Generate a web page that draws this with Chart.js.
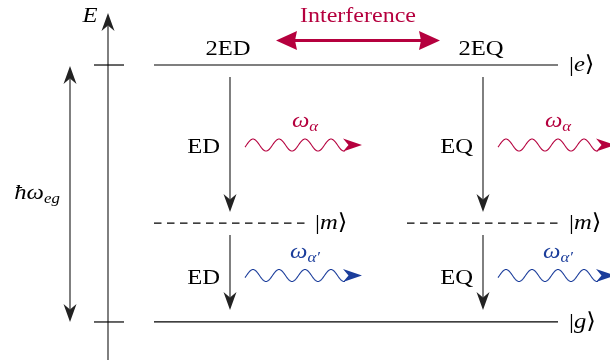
<!DOCTYPE html>
<html>
<head>
<meta charset="utf-8">
<script src="https://cdn.jsdelivr.net/npm/chart.js@4/dist/chart.umd.min.js"></script>
<style>
  html, body { margin: 0; padding: 0; background: #fff; }
  #wrap { width: 610px; height: 360px; position: relative; }
</style>
</head>
<body>
<div id="wrap"><canvas id="diagram"></canvas></div>
<script>
// Energy levels, in units of ħω_eg above the ground state
const levelNames = ['g', 'm', 'e'];
const levelEnergies = [0, 0.385, 1];
// Multipole channels and the two-photon process each one forms
const channelNames = ['ED', 'EQ'];
const processNames = ['2ED', '2EQ'];
// Subscripts of the first and second emitted photon
const photonNames = ['α', 'α′'];
const interferenceLabel = 'Interference';
const axisLabel = 'E';

const E = Object.fromEntries(levelNames.map((n, i) => [n, levelEnergies[i]]));

// Horizontal layout (x scale runs 0..610)
const L = {
  axisX: 108,
  tick: [94, 124],
  gapArrowX: 70,
  levelSpan: [154, 558],
  virtualSpans: [[154, 305], [407, 558]],
  columns: [230, 483],
  ketX: [569, 315],
  interference: [276, 440]
};
const style = {
  ink: '#000',
  arrowInk: '#222',
  crimson: '#b5003e',
  blue: '#1b3d9b',
  serif: "'Liberation Serif', 'DejaVu Serif', 'DejaVu Sans', serif"
};

function levelSet(x0, x1, energy, dashed) {
  return {
    data: [{ x: x0, y: energy }, { x: x1, y: energy }],
    showLine: true,
    borderColor: style.ink,
    borderWidth: 1.2,
    borderDash: dashed ? [7.5, 5.5] : [],
    pointRadius: 0,
    fill: false
  };
}

const datasets = [
  levelSet(L.levelSpan[0], L.levelSpan[1], E.e, false),
  levelSet(L.levelSpan[0], L.levelSpan[1], E.g, false),
  ...L.virtualSpans.map(s => levelSet(s[0], s[1], E.m, true))
];

// Arrow head with a swept-back (stealth) outline; tip at (x, y), pointing along angle
function head(ctx, x, y, angle, len, width, notch, color) {
  ctx.save();
  ctx.translate(x, y);
  ctx.rotate(angle);
  ctx.beginPath();
  ctx.moveTo(0, 0);
  ctx.lineTo(-len, -width / 2);
  ctx.lineTo(-len + notch, 0);
  ctx.lineTo(-len, width / 2);
  ctx.closePath();
  ctx.fillStyle = color;
  ctx.fill();
  ctx.restore();
}

function arrow(ctx, x0, y0, x1, y1, opts) {
  const o = Object.assign({ color: style.arrowInk, lw: 1.15, len: 18, width: 13, notch: 5.5, both: false }, opts);
  const a = Math.atan2(y1 - y0, x1 - x0);
  const cut = o.len - o.notch;
  const sx = o.both ? x0 + Math.cos(a) * cut : x0;
  const sy = o.both ? y0 + Math.sin(a) * cut : y0;
  ctx.save();
  ctx.strokeStyle = o.color;
  ctx.lineWidth = o.lw;
  ctx.beginPath();
  ctx.moveTo(sx, sy);
  ctx.lineTo(x1 - Math.cos(a) * cut, y1 - Math.sin(a) * cut);
  ctx.stroke();
  ctx.restore();
  head(ctx, x1, y1, a, o.len, o.width, o.notch, o.color);
  if (o.both) head(ctx, x0, y0, a + Math.PI, o.len, o.width, o.notch, o.color);
}

// Wavy photon line ending in an arrow head
function photon(ctx, x0, tipX, y, color) {
  const period = 26, amp = 6, firstPeak = x0 + 8, end = tipX - 17;
  ctx.save();
  ctx.strokeStyle = color;
  ctx.lineWidth = 1.1;
  ctx.beginPath();
  for (let i = 0, x = x0; x <= end; i++, x = x0 + i * 0.5) {
    const yy = y - amp * Math.cos(2 * Math.PI * (x - firstPeak) / period);
    if (i === 0) ctx.moveTo(x, yy); else ctx.lineTo(x, yy);
  }
  ctx.stroke();
  ctx.restore();
  head(ctx, tipX, y, 0, 19, 13, 5.5, color);
}

// Text made of runs (upright / italic, sub- and superscripts), widened to a book-face width
function text(ctx, parts, x, y, align, color) {
  const fontOf = p => `${p.it ? 'italic ' : ''}${p.size || 22}px ${style.serif}`;
  let total = 0;
  const widths = parts.map(p => {
    ctx.font = fontOf(p);
    const w = ctx.measureText(p.t).width * (p.sx || 1.12);
    total += w;
    return w;
  });
  let cx = align === 'center' ? x - total / 2 : align === 'right' ? x - total : x;
  ctx.save();
  ctx.fillStyle = color || style.ink;
  ctx.textBaseline = 'alphabetic';
  parts.forEach((p, i) => {
    ctx.font = fontOf(p);
    ctx.save();
    ctx.translate(cx, y + (p.dy || 0));
    ctx.scale(p.sx || 1.12, 1);
    ctx.fillText(p.t, 0, 0);
    ctx.restore();
    cx += widths[i];
  });
  ctx.restore();
}

const ket = name => [{ t: '|' }, { t: name, it: true }, { t: '⟩' }];

const diagramPlugin = {
  id: 'levelDiagram',
  afterDatasetsDraw(chart) {
    const ctx = chart.ctx;
    const xs = chart.scales.x, ys = chart.scales.y;
    const X = v => xs.getPixelForValue(v);
    const Y = v => ys.getPixelForValue(v);
    const ye = Y(E.e), ym = Y(E.m), yg = Y(E.g);

    // Energy axis with level ticks
    arrow(ctx, X(L.axisX), chart.height, X(L.axisX), 13);
    ctx.save();
    ctx.strokeStyle = style.ink;
    ctx.lineWidth = 1.2;
    [ye, yg].forEach(y => {
      ctx.beginPath();
      ctx.moveTo(X(L.tick[0]), y);
      ctx.lineTo(X(L.tick[1]), y);
      ctx.stroke();
    });
    ctx.restore();
    text(ctx, [{ t: axisLabel, it: true }], X(L.axisX) - 18, 22, 'center');

    // Transition energy between |g> and |e>
    arrow(ctx, X(L.gapArrowX), yg, X(L.gapArrowX), ye + 1, { both: true });
    text(ctx, [{ t: 'ħ', it: true }, { t: 'ω', it: true }, { t: 'eg', it: true, size: 15, dy: 4 }],
      X(L.gapArrowX) - 33, 199, 'center');

    // Kets
    text(ctx, ket(levelNames[2]), X(L.ketX[0]), ye + 6, 'left');
    text(ctx, ket(levelNames[0]), X(L.ketX[0]), yg + 6, 'left');
    text(ctx, ket(levelNames[1]), X(L.ketX[1]), ym + 6, 'left');
    text(ctx, ket(levelNames[1]), X(L.ketX[0]), ym + 6, 'left');

    // Decay cascades, one per channel
    const rows = [(ye + ym) / 2 + 1, (ym + yg) / 2 + 3];
    const pathColors = [style.crimson, style.blue];
    L.columns.forEach((cx, c) => {
      const px = X(cx);
      arrow(ctx, px, ye + 12, px, ym - 11);
      arrow(ctx, px, ym + 12, px, yg - 12);
      text(ctx, [{ t: processNames[c] }], px - 2, ye - 10, 'center');
      rows.forEach((ry, r) => {
        text(ctx, [{ t: channelNames[c] }], px - 10, ry + 8, 'right');
        photon(ctx, px + 15, px + 132, ry, pathColors[r]);
        text(ctx, [{ t: 'ω', it: true }, { t: photonNames[r], it: true, size: 15, dy: 4 }],
          px + 75, ry - 18, 'center', pathColors[r]);
      });
    });

    // Interference between the two channels
    arrow(ctx, X(L.interference[0]), 40.5, X(L.interference[1]), 40.5,
      { both: true, color: style.crimson, lw: 3, len: 21, width: 19, notch: 2 });
    text(ctx, [{ t: interferenceLabel, size: 20, sx: 1.2 }], (X(L.interference[0]) + X(L.interference[1])) / 2, 22, 'center', style.crimson);
  }
};

new Chart(document.getElementById('diagram'), {
  type: 'scatter',
  data: { datasets },
  options: {
    responsive: true,
    maintainAspectRatio: false,
    animation: false,
    layout: { padding: 0 },
    plugins: { legend: { display: false }, tooltip: { enabled: false } },
    scales: {
      x: { type: 'linear', min: 0, max: 610, display: false },
      y: { type: 'linear', min: -0.148, max: 1.253, display: false }
    }
  },
  plugins: [diagramPlugin]
});
</script>
</body>
</html>
